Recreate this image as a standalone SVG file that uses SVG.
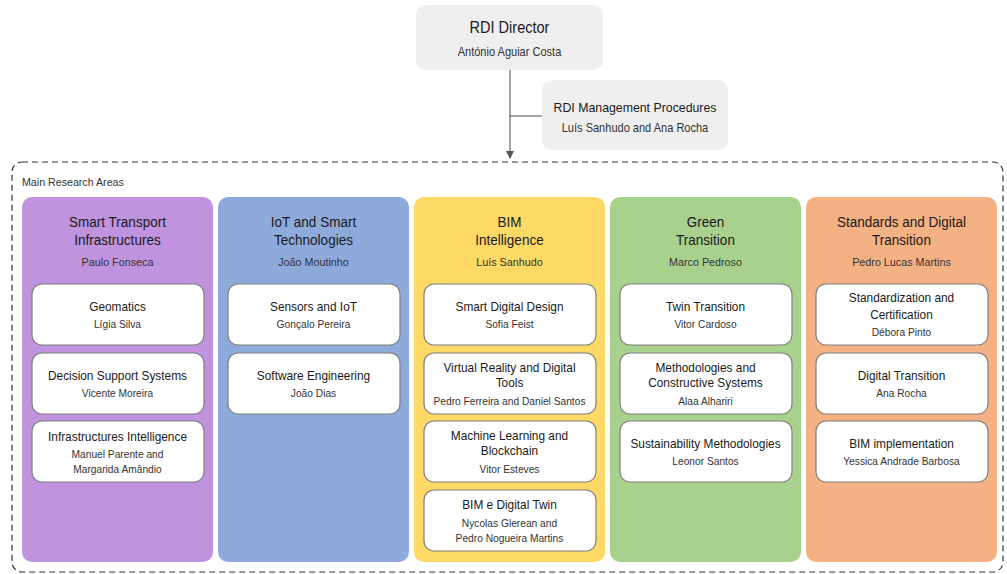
<svg xmlns="http://www.w3.org/2000/svg" width="1007" height="574" viewBox="0 0 1007 574">
  <defs>
    <marker id="arrow" markerWidth="8" markerHeight="8" refX="7" refY="4" orient="auto" markerUnits="userSpaceOnUse">
      <path d="M0,0 L8,4 L0,8 Z" fill="#555"/>
    </marker>
    <style>
      text { font-family: "Liberation Sans", Arial, sans-serif; text-anchor: middle; }
      .top { fill: #efefef; }
      .t-top { font-size: 15.8px; fill: #1a1a1a; }
      .t-mgmt { font-size: 13.4px; fill: #1a1a1a; }
      .n-top { font-size: 12px; fill: #333; }
      .area { font-size: 14.7px; fill: #1a1a1a; }
      .lead { font-size: 11.7px; fill: #333; }
      .card { fill: #fff; stroke: #7f7f7f; stroke-width: 1.2; }
      .ct { font-size: 12.9px; fill: #1a1a1a; }
      .cn { font-size: 11.1px; fill: #333; }
      .link { fill: none; stroke: #666; stroke-width: 1.2; }
    </style>
  </defs>
  <rect width="1007" height="574" fill="#fff"/>

  <!-- labels are narrowed to 92% about their own centre line -->

  <!-- outer frame of the research areas -->
  <g id="research-areas-frame">
    <rect x="12" y="162" width="991" height="410" rx="10" fill="none" stroke="#333" stroke-width="1.2" stroke-dasharray="6 4"/>
    <g transform="matrix(0.92 0 0 1 1.76 0)">
      <text x="22" y="186" style="text-anchor:start;font-size:11.6px;fill:#333">Main Research Areas</text>
    </g>
  </g>

  <!-- connectors -->
  <g id="connectors">
    <line class="link" x1="510" y1="70" x2="510" y2="158" marker-end="url(#arrow)"/>
    <line class="link" x1="510" y1="116" x2="542" y2="116"/>
  </g>

  <g id="rdi-director">
    <rect class="top" x="416" y="5" width="187" height="65" rx="10"/>
    <g transform="matrix(0.92 0 0 1 40.76 0)">
      <text class="t-top" x="509.5" y="33.5">RDI Director</text>
      <text class="n-top" x="509.5" y="56.4">António Aguiar Costa</text>
    </g>
  </g>

  <g id="rdi-management">
    <rect class="top" x="542" y="80" width="186" height="70" rx="10"/>
    <g transform="matrix(0.92 0 0 1 50.8 0)">
      <text class="t-mgmt" x="635" y="111.7">RDI Management Procedures</text>
      <text class="n-top" x="635" y="132.2">Luís Sanhudo and Ana Rocha</text>
    </g>
  </g>

  <!-- column 1 -->
  <g id="area-smart-transport">
    <rect x="22" y="197" width="191" height="365" rx="10" fill="#bf93dd"/>
    <g transform="matrix(0.92 0 0 1 9.4 0)">
      <text class="area" x="117.5" y="227.1">Smart Transport</text>
      <text class="area" x="117.5" y="245.1">Infrastructures</text>
      <text class="lead" x="117.5" y="266.2">Paulo Fonseca</text>
    </g>
  </g>
  <g id="geomatics">
    <rect class="card" x="32" y="284" width="172" height="61" rx="10"/>
    <g transform="matrix(0.92 0 0 1 9.4 0)">
      <text class="ct" x="117.5" y="310.6">Geomatics</text>
      <text class="cn" x="117.5" y="328">Lígia Silva</text>
    </g>
  </g>
  <g id="decision-support">
    <rect class="card" x="32" y="353" width="172" height="61" rx="10"/>
    <g transform="matrix(0.92 0 0 1 9.4 0)">
      <text class="ct" x="117.5" y="379.6">Decision Support Systems</text>
      <text class="cn" x="117.5" y="397">Vicente Moreira</text>
    </g>
  </g>
  <g id="infrastructures-intelligence">
    <rect class="card" x="32" y="421" width="172" height="61" rx="10"/>
    <g transform="matrix(0.92 0 0 1 9.4 0)">
      <text class="ct" x="117.5" y="440.6">Infrastructures Intelligence</text>
      <text class="cn" x="117.5" y="458">Manuel Parente and</text>
      <text class="cn" x="117.5" y="473">Margarida Amândio</text>
    </g>
  </g>

  <!-- column 2 -->
  <g id="area-iot">
    <rect x="218" y="197" width="191" height="365" rx="10" fill="#8eaadb"/>
    <g transform="matrix(0.92 0 0 1 25.08 0)">
      <text class="area" x="313.5" y="227.1">IoT and Smart</text>
      <text class="area" x="313.5" y="245.1">Technologies</text>
      <text class="lead" x="313.5" y="266.2">João Moutinho</text>
    </g>
  </g>
  <g id="sensors-iot">
    <rect class="card" x="228" y="284" width="172" height="61" rx="10"/>
    <g transform="matrix(0.92 0 0 1 25.08 0)">
      <text class="ct" x="313.5" y="310.6">Sensors and IoT</text>
      <text class="cn" x="313.5" y="328">Gonçalo Pereira</text>
    </g>
  </g>
  <g id="software-engineering">
    <rect class="card" x="228" y="353" width="172" height="61" rx="10"/>
    <g transform="matrix(0.92 0 0 1 25.08 0)">
      <text class="ct" x="313.5" y="379.6">Software Engineering</text>
      <text class="cn" x="313.5" y="397">João Dias</text>
    </g>
  </g>

  <!-- column 3 -->
  <g id="area-bim">
    <rect x="414" y="197" width="191" height="365" rx="10" fill="#ffd966"/>
    <g transform="matrix(0.92 0 0 1 40.76 0)">
      <text class="area" x="509.5" y="227.1">BIM</text>
      <text class="area" x="509.5" y="245.1">Intelligence</text>
      <text class="lead" x="509.5" y="266.2">Luís Sanhudo</text>
    </g>
  </g>
  <g id="smart-digital-design">
    <rect class="card" x="424" y="284" width="172" height="61" rx="10"/>
    <g transform="matrix(0.92 0 0 1 40.76 0)">
      <text class="ct" x="509.5" y="310.6">Smart Digital Design</text>
      <text class="cn" x="509.5" y="328">Sofia Feist</text>
    </g>
  </g>
  <g id="virtual-reality">
    <rect class="card" x="424" y="353" width="172" height="61" rx="10"/>
    <g transform="matrix(0.92 0 0 1 40.76 0)">
      <text class="ct" x="509.5" y="371.6">Virtual Reality and Digital</text>
      <text class="ct" x="509.5" y="386.6">Tools</text>
      <text class="cn" x="509.5" y="405">Pedro Ferreira and Daniel Santos</text>
    </g>
  </g>
  <g id="machine-learning">
    <rect class="card" x="424" y="421" width="172" height="61" rx="10"/>
    <g transform="matrix(0.92 0 0 1 40.76 0)">
      <text class="ct" x="509.5" y="439.6">Machine Learning and</text>
      <text class="ct" x="509.5" y="454.6">Blockchain</text>
      <text class="cn" x="509.5" y="473">Vitor Esteves</text>
    </g>
  </g>
  <g id="bim-digital-twin">
    <rect class="card" x="424" y="490" width="172" height="61" rx="10"/>
    <g transform="matrix(0.92 0 0 1 40.76 0)">
      <text class="ct" x="509.5" y="508.6">BIM e Digital Twin</text>
      <text class="cn" x="509.5" y="526.7">Nycolas Glerean and</text>
      <text class="cn" x="509.5" y="541.7">Pedro Nogueira Martins</text>
    </g>
  </g>

  <!-- column 4 -->
  <g id="area-green">
    <rect x="610" y="197" width="191" height="365" rx="10" fill="#a9d18e"/>
    <g transform="matrix(0.92 0 0 1 56.44 0)">
      <text class="area" x="705.5" y="227.1">Green</text>
      <text class="area" x="705.5" y="245.1">Transition</text>
      <text class="lead" x="705.5" y="266.2">Marco Pedroso</text>
    </g>
  </g>
  <g id="twin-transition">
    <rect class="card" x="620" y="284" width="172" height="61" rx="10"/>
    <g transform="matrix(0.92 0 0 1 56.44 0)">
      <text class="ct" x="705.5" y="310.6">Twin Transition</text>
      <text class="cn" x="705.5" y="328">Vitor Cardoso</text>
    </g>
  </g>
  <g id="constructive-systems">
    <rect class="card" x="620" y="353" width="172" height="61" rx="10"/>
    <g transform="matrix(0.92 0 0 1 56.44 0)">
      <text class="ct" x="705.5" y="371.6">Methodologies and</text>
      <text class="ct" x="705.5" y="386.6">Constructive Systems</text>
      <text class="cn" x="705.5" y="405">Alaa Alhariri</text>
    </g>
  </g>
  <g id="sustainability">
    <rect class="card" x="620" y="421" width="172" height="61" rx="10"/>
    <g transform="matrix(0.92 0 0 1 56.44 0)">
      <text class="ct" x="705.5" y="447.6">Sustainability Methodologies</text>
      <text class="cn" x="705.5" y="465">Leonor Santos</text>
    </g>
  </g>

  <!-- column 5 -->
  <g id="area-standards">
    <rect x="806" y="197" width="191" height="365" rx="10" fill="#f4b183"/>
    <g transform="matrix(0.92 0 0 1 72.12 0)">
      <text class="area" x="901.5" y="227.1">Standards and Digital</text>
      <text class="area" x="901.5" y="245.1">Transition</text>
      <text class="lead" x="901.5" y="266.2">Pedro Lucas Martins</text>
    </g>
  </g>
  <g id="standardization">
    <rect class="card" x="816" y="284" width="172" height="61" rx="10"/>
    <g transform="matrix(0.92 0 0 1 72.12 0)">
      <text class="ct" x="901.5" y="302.3">Standardization and</text>
      <text class="ct" x="901.5" y="318.6">Certification</text>
      <text class="cn" x="901.5" y="335.7">Débora Pinto</text>
    </g>
  </g>
  <g id="digital-transition">
    <rect class="card" x="816" y="353" width="172" height="61" rx="10"/>
    <g transform="matrix(0.92 0 0 1 72.12 0)">
      <text class="ct" x="901.5" y="379.6">Digital Transition</text>
      <text class="cn" x="901.5" y="397">Ana Rocha</text>
    </g>
  </g>
  <g id="bim-implementation">
    <rect class="card" x="816" y="421" width="172" height="61" rx="10"/>
    <g transform="matrix(0.92 0 0 1 72.12 0)">
      <text class="ct" x="901.5" y="447.6">BIM implementation</text>
      <text class="cn" x="901.5" y="465">Yessica Andrade Barbosa</text>
    </g>
  </g>
</svg>
